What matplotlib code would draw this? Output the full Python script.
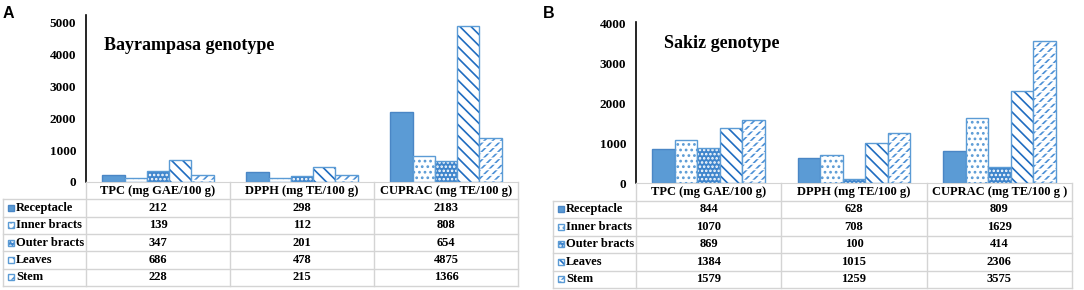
import numpy as np
import matplotlib
matplotlib.use('Agg')
import matplotlib.pyplot as plt
from matplotlib.patches import Rectangle

# data
categories_a = ['TPC (mg GAE/100 g)', 'DPPH (mg TE/100 g)', 'CUPRAC (mg TE/100 g)']
categories_b = ['TPC (mg GAE/100 g)', 'DPPH (mg TE/100 g)', 'CUPRAC (mg TE/100 g )']
parts = ['Receptacle', 'Inner bracts', 'Outer bracts', 'Leaves', 'Stem']

receptacle_a = [212, 298, 2183]
inner_a = [139, 112, 808]
outer_a = [347, 201, 654]
leaves_a = [686, 478, 4875]
stem_a = [228, 215, 1366]

receptacle_b = [844, 628, 809]
inner_b = [1070, 708, 1629]
outer_b = [869, 100, 414]
leaves_b = [1384, 1015, 2306]
stem_b = [1579, 1259, 3575]

yticks_a = [0, 1000, 2000, 3000, 4000, 5000]
yticks_b = [0, 1000, 2000, 3000, 4000]

BLUE = '#5B9BD5'
GRID = '#D4D4D4'
SERIF = 'Liberation Serif'

plt.rcParams['hatch.linewidth'] = 1.2

# layers per series: (face, edge, hatch, lw)
styles = {
    'Receptacle': [(BLUE, '#4A86C5', None, 1.0)],
    'Inner bracts': [('white', BLUE, '...', 0), ('none', BLUE, None, 1.0)],
    'Outer bracts': [('#3F85CC', 'white', '....', 0), ('none', BLUE, None, 1.0)],
    'Leaves': [('white', '#1F6CC0', '\\\\\\', 0), ('none', BLUE, None, 1.0)],
    'Stem': [('white', '#4C90D6', '////', 0), ('none', 'white', '---', 0),
             ('none', BLUE, None, 1.0)],
}

W = 1084
H = 290
fig = plt.figure(figsize=(W / 100, H / 100), dpi=100)


def px_axes(x0, y0, x1, y1):
    return fig.add_axes([x0 / W, 1 - y1 / H, (x1 - x0) / W, (y1 - y0) / H])


def draw_panel(box, tbox, ymax, yticks, cats, series, title, title_xy, letter, letter_xy, lw_frac):
    ax = px_axes(*box)
    x = np.arange(len(cats)) + 0.5
    bw = 0.155
    for i, (name, vals) in enumerate(zip(parts, series)):
        for face, edge, hatch, lw in styles[name]:
            ax.bar(x + (i - 2) * bw, vals, bw, color=face, edgecolor=edge,
                   hatch=hatch, linewidth=lw)
    ax.set_xlim(0, len(cats))
    ax.set_ylim(0, ymax)
    ax.set_yticks(yticks)
    ax.set_yticklabels([str(t) for t in yticks], fontfamily=SERIF,
                       fontweight='bold', fontsize=9.5)
    ax.tick_params(axis='y', length=0, pad=7)
    ax.set_xticks([])
    for s in ['top', 'right']:
        ax.spines[s].set_visible(False)
    ax.spines['left'].set_linewidth(1.2)
    ax.spines['bottom'].set_color(GRID)
    ax.patch.set_alpha(0)
    fig.text(title_xy[0] / W, 1 - title_xy[1] / H, title, fontfamily=SERIF,
             fontweight='bold', fontsize=13, va='center', ha='left')
    fig.text(letter_xy[0] / W, 1 - letter_xy[1] / H, letter, fontfamily='Liberation Sans',
             fontweight='bold', fontsize=11.5, va='center', ha='left')

    # table below the chart
    tx = px_axes(*tbox)
    nrow = len(parts) + 1
    tx.set_xlim(-lw_frac, len(cats))
    tx.set_ylim(nrow, 0)
    tx.axis('off')
    kw = dict(color=GRID, lw=1.0, clip_on=False)
    for r in range(1, nrow + 1):
        tx.plot([-lw_frac, len(cats)], [r, r], **kw)
    tx.plot([-lw_frac, -lw_frac], [1, nrow], **kw)
    for c in range(len(cats) + 1):
        tx.plot([c, c], [0, nrow], **kw)
    tfont = dict(fontfamily=SERIF, fontweight='bold', fontsize=9, va='center')
    for c, cat in enumerate(cats):
        tx.text(c + 0.5, 0.5, cat, ha='center', **tfont)
    mw = 6 / ((tbox[2] - tbox[0]) / (len(cats) + lw_frac))
    mh = 6 / ((tbox[3] - tbox[1]) / nrow)
    for r, (name, vals) in enumerate(zip(parts, series)):
        yc = r + 1.5
        for face, edge, hatch, lw in styles[name]:
            tx.add_patch(Rectangle((-lw_frac + 0.035, yc - mh / 2), mw, mh,
                                   facecolor=face, edgecolor=edge, hatch=hatch,
                                   linewidth=lw))
        tx.text(-lw_frac + 0.09, yc, name, ha='left', **tfont)
        for c, v in enumerate(vals):
            tx.text(c + 0.5, yc, str(v), ha='center', **tfont)


draw_panel((86, 15, 518, 182), (3, 182, 518, 286), 5219, yticks_a, categories_a,
           [receptacle_a, inner_a, outer_a, leaves_a, stem_a],
           'Bayrampasa genotype', (104, 45), 'A', (3, 13), 83 / 144)
draw_panel((636, 22, 1072, 183), (553, 183, 1072, 288), 4050, yticks_b, categories_b,
           [receptacle_b, inner_b, outer_b, leaves_b, stem_b],
           'Sakiz genotype', (664, 43), 'B', (543, 13), 83 / 145.3)

fig.savefig('out.png', dpi=100)
